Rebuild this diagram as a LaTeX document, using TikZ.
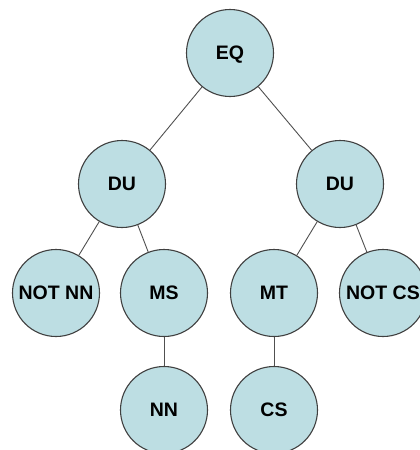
\documentclass[tikz,border=0pt]{standalone}
\usepackage{fontspec}
\setmainfont{Liberation Sans}
\definecolor{nodefill}{RGB}{189,222,227}
\definecolor{nodeline}{RGB}{64,64,64}
\definecolor{edgeline}{RGB}{80,80,80}
\begin{document}
\begin{tikzpicture}[x=1pt,y=-1pt,
  tnode/.style={circle,draw=nodeline,line width=1.1pt,fill=nodefill,
    minimum size=87pt,inner sep=0pt,text depth=0pt,
    font=\fontsize{19.5}{20}\selectfont\bfseries},
  edge/.style={draw=edgeline,line width=0.9pt}]
\useasboundingbox (0,0) rectangle (420,450);
\clip (0,0) rectangle (420,450);
\node[tnode] (eq)  at (230,53)  {EQ};
\node[tnode] (du1) at (122,184) {DU};
\node[tnode] (du2) at (340,184) {DU};
\node[tnode] (nnn) at (56,293)  {NOT NN};
\node[tnode] (ms)  at (164,293) {MS};
\node[tnode] (mt)  at (274,293) {MT};
\node[tnode] (ncs) at (383,293) {NOT CS};
\node[tnode] (nn)  at (164,410) {NN};
\node[tnode] (cs)  at (274,410) {CS};
\path[edge] (eq) -- (du1);
\path[edge] (eq) -- (du2);
\path[edge] (du1) -- (nnn);
\path[edge] (du1) -- (ms);
\path[edge] (du2) -- (mt);
\path[edge] (du2) -- (ncs);
\path[edge] (ms) -- (nn);
\path[edge] (mt) -- (cs);
\end{tikzpicture}
\end{document}
